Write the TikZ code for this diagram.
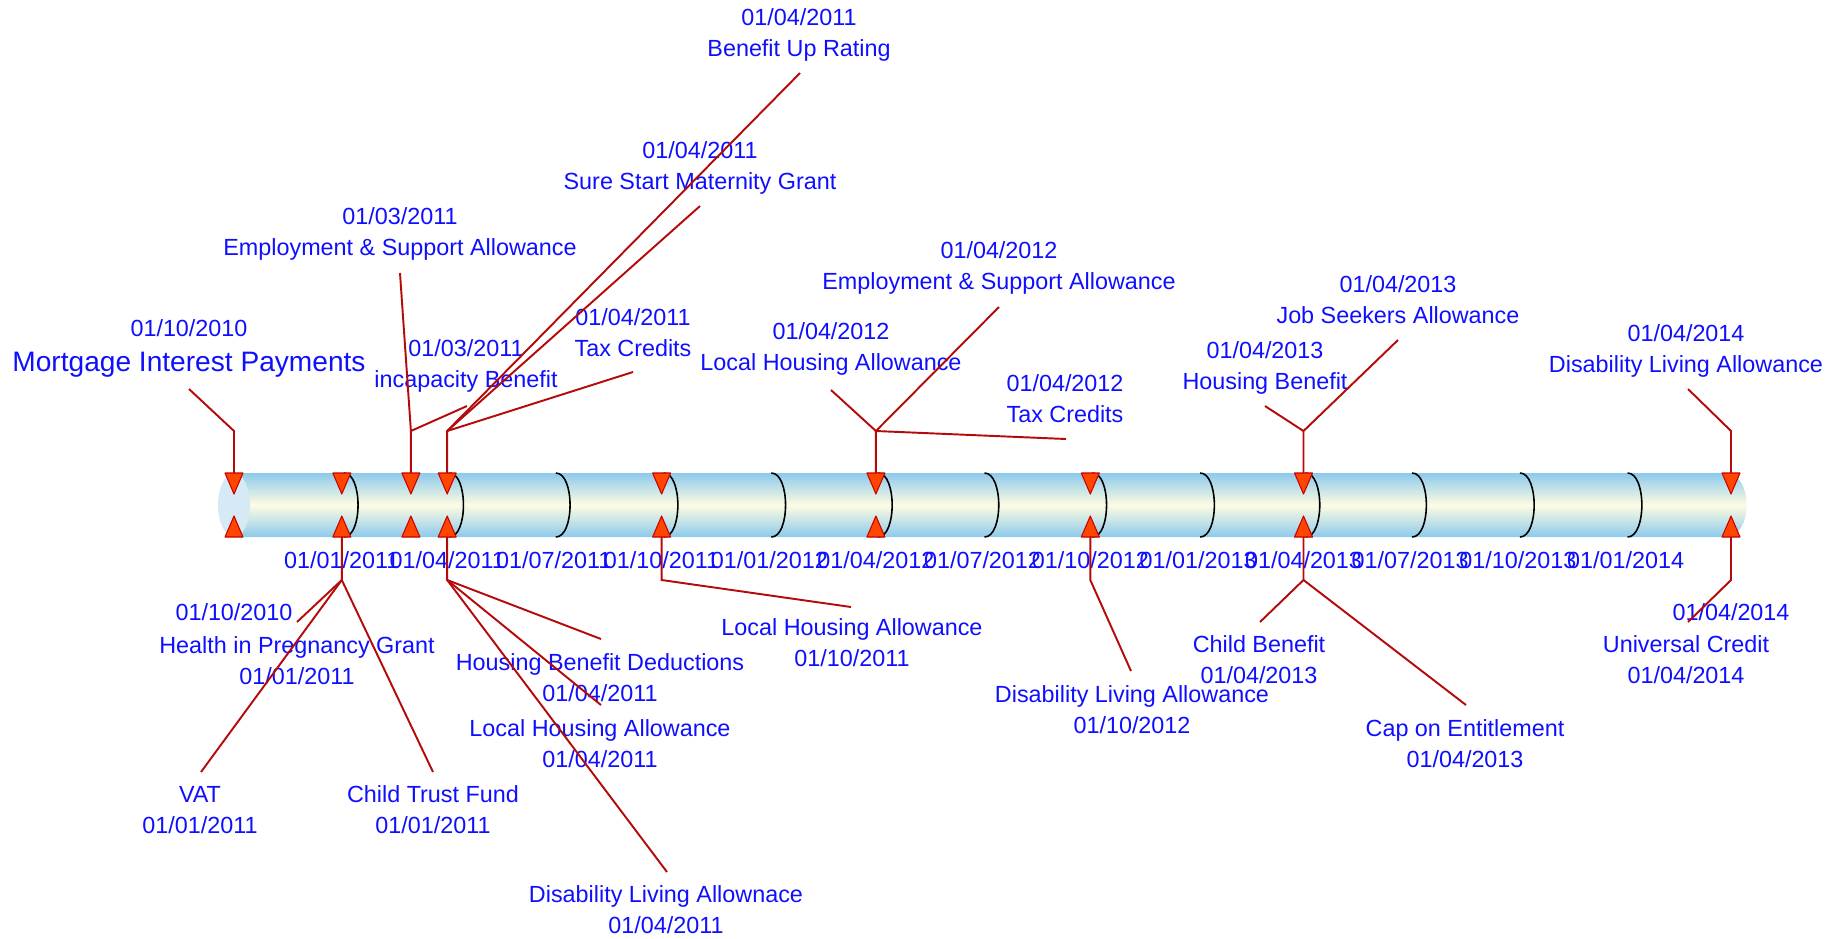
\documentclass[tikz,border=0pt]{standalone}
\usepackage{fontspec}
\setmainfont{Liberation Sans}
\definecolor{txtblue}{RGB}{15,15,255}
\definecolor{linkred}{RGB}{180,10,10}
\definecolor{trifill}{RGB}{255,70,0}
\definecolor{triline}{RGB}{200,0,0}
\definecolor{tubeblue}{RGB}{140,202,236}
\definecolor{tubecream}{RGB}{255,252,226}
\definecolor{capblue}{RGB}{214,234,246}
\tikzset{
  lbl/.style={text=txtblue, align=center, inner sep=0pt, font=\fontsize{13.3}{17.6}\selectfont},
  link/.style={linkred, line width=1.1pt},
  tickarc/.style={black, line width=0.9pt},
  tri/.style={fill=trifill, draw=triline, line width=0.6pt, line join=round}
}
\begin{document}
\begin{tikzpicture}[x=0.02cm,y=-0.02cm]
\useasboundingbox (0,0) rectangle (1836,938);
%tube
\shade[top color=tubeblue, bottom color=tubeblue, middle color=tubecream]
  (234,473) -- (1725,473) .. controls (1754,473) and (1754,537) .. (1725,537) -- (234,537) -- cycle;
\fill[capblue] (234,505) ellipse [x radius=0.32cm, y radius=0.64cm];
\coordinate (tubetop) at (0,473);
\coordinate (tubebot) at (0,537);
%graduations
\foreach \x in {341.8,447.2,553.8,661.6,769.3,875.9,982.5,1090.3,1198.1,1303.5,1410.1,1517.9,1625.6}
  \draw[tickarc] (\x+2,473) .. controls (\x+21,473) and (\x+21,537) .. (\x+2,537);
\foreach \x/\m/\yr in {341.8/01/2011,447.2/04/2011,553.8/07/2011,661.6/10/2011,769.3/01/2012,875.9/04/2012,982.5/07/2012,1090.3/10/2012,1198.1/01/2013,1303.5/04/2013,1410.1/07/2013,1517.9/10/2013,1625.6/01/2014}
  \node[lbl] (d-\m-\yr) at (\x,560) {01/\m/\yr};
\node[lbl] (d-first) at (234,612) {01/10/2010};
\node[lbl] (d-last) at (1731,612) {01/04/2014};
%labels above
\node[lbl] (mip) at (189,348) {01/10/2010\\[2.3pt]{\fontsize{16}{19}\selectfont Mortgage Interest Payments}};
\node[lbl] (esa11) at (400,234) {01/03/2011\\Employment \& Support Allowance};
\node[lbl] (inc) at (466,366) {01/03/2011\\incapacity Benefit};
\node[lbl] (bur) at (799,35) {01/04/2011\\Benefit Up Rating};
\node[lbl] (ssm) at (700,168) {01/04/2011\\Sure Start Maternity Grant};
\node[lbl] (tc11) at (633,333) {01/04/2011\\Tax Credits};
\node[lbl] (esa12) at (999,268) {01/04/2012\\Employment \& Support Allowance};
\node[lbl] (lha12) at (831,349) {01/04/2012\\Local Housing Allowance};
\node[lbl] (tc12) at (1065,399) {01/04/2012\\Tax Credits};
\node[lbl] (jsa) at (1398,300) {01/04/2013\\Job Seekers Allowance};
\node[lbl] (hb13) at (1265,368) {01/04/2013\\Housing Benefit};
\node[lbl] (dla14) at (1686,351) {01/04/2014\\Disability Living Allowance};
%labels below
\node[lbl] (hpg) at (297,661) {Health in Pregnancy Grant\\01/01/2011};
\node[lbl] (vat) at (200,810) {VAT\\01/01/2011};
\node[lbl] (ctf) at (433,810) {Child Trust Fund\\01/01/2011};
\node[lbl] (hbd) at (600,678) {Housing Benefit Deductions\\01/04/2011};
\node[lbl] (lha11) at (600,744) {Local Housing Allowance\\01/04/2011};
\node[lbl] (dla11) at (666,910) {Disability Living Allownace\\01/04/2011};
\node[lbl] (lha1011) at (852,643) {Local Housing Allowance\\01/10/2011};
\node[lbl] (dla12) at (1132,710) {Disability Living Allowance\\01/10/2012};
\node[lbl] (cb) at (1259,660) {Child Benefit\\01/04/2013};
\node[lbl] (coe) at (1465,744) {Cap on Entitlement\\01/04/2013};
\node[lbl] (uc) at (1686,660) {Universal Credit\\01/04/2014};
%coudes
\coordinate (up0) at (234,431);
\coordinate (up1) at (410.9,431);
\coordinate (up2) at (447.2,431);
\coordinate (up5) at (875.9,431);
\coordinate (up8) at (1303.5,431);
\coordinate (up9) at (1731,431);
\coordinate (dn1) at (341.8,580);
\coordinate (dn2) at (447.2,580);
\coordinate (dn3) at (661.6,580);
\coordinate (dn6) at (1090.3,580);
\coordinate (dn8) at (1303.5,580);
\coordinate (dn9) at (1731,580);
%bouts des traits
\coordinate (mip-e) at (189,389);
\coordinate (esa11-e) at (400,273);
\coordinate (inc-e) at (467,406);
\coordinate (bur-e) at (800,73);
\coordinate (ssm-e) at (700,206);
\coordinate (tc11-e) at (633,372);
\coordinate (esa12-e) at (999,307);
\coordinate (lha12-e) at (831,390);
\coordinate (tc12-e) at (1066,439);
\coordinate (jsa-e) at (1398,340);
\coordinate (hb13-e) at (1265,406);
\coordinate (dla14-e) at (1688,389);
\coordinate (hpg-e) at (297,622);
\coordinate (vat-e) at (201,772);
\coordinate (ctf-e) at (433,772);
\coordinate (hbd-e) at (601,639);
\coordinate (lha11-e) at (601,705);
\coordinate (dla11-e) at (667,872);
\coordinate (lha1011-e) at (851,607);
\coordinate (dla12-e) at (1131,671);
\coordinate (cb-e) at (1260,622);
\coordinate (coe-e) at (1466,705);
\coordinate (uc-e) at (1688,622);
%traits
\draw[link] (mip-e) -- (up0) -- (up0 |- tubetop);
\draw[link] (esa11-e) -- (up1) -- (up1 |- tubetop);
\draw[link] (inc-e) -- (up1);
\draw[link] (bur-e) -- (up2) -- (up2 |- tubetop);
\draw[link] (ssm-e) -- (up2);
\draw[link] (tc11-e) -- (up2);
\draw[link] (esa12-e) -- (up5) -- (up5 |- tubetop);
\draw[link] (lha12-e) -- (up5);
\draw[link] (tc12-e) -- (up5);
\draw[link] (jsa-e) -- (up8) -- (up8 |- tubetop);
\draw[link] (hb13-e) -- (up8);
\draw[link] (dla14-e) -- (up9) -- (up9 |- tubetop);
\draw[link] (hpg-e) -- (dn1) -- (dn1 |- tubebot);
\draw[link] (vat-e) -- (dn1);
\draw[link] (ctf-e) -- (dn1);
\draw[link] (hbd-e) -- (dn2) -- (dn2 |- tubebot);
\draw[link] (lha11-e) -- (dn2);
\draw[link] (dla11-e) -- (dn2);
\draw[link] (lha1011-e) -- (dn3) -- (dn3 |- tubebot);
\draw[link] (dla12-e) -- (dn6) -- (dn6 |- tubebot);
\draw[link] (cb-e) -- (dn8) -- (dn8 |- tubebot);
\draw[link] (coe-e) -- (dn8);
\draw[link] (uc-e) -- (dn9) -- (dn9 |- tubebot);
%triangles
\foreach \x in {234,341.8,410.9,447.2,661.6,875.9,1090.3,1303.5,1731}{
  \filldraw[tri] (\x-9,473) -- (\x+9,473) -- (\x,494) -- cycle;
  \filldraw[tri] (\x-9,537) -- (\x+9,537) -- (\x,516) -- cycle;
}
\end{tikzpicture}
\end{document}
